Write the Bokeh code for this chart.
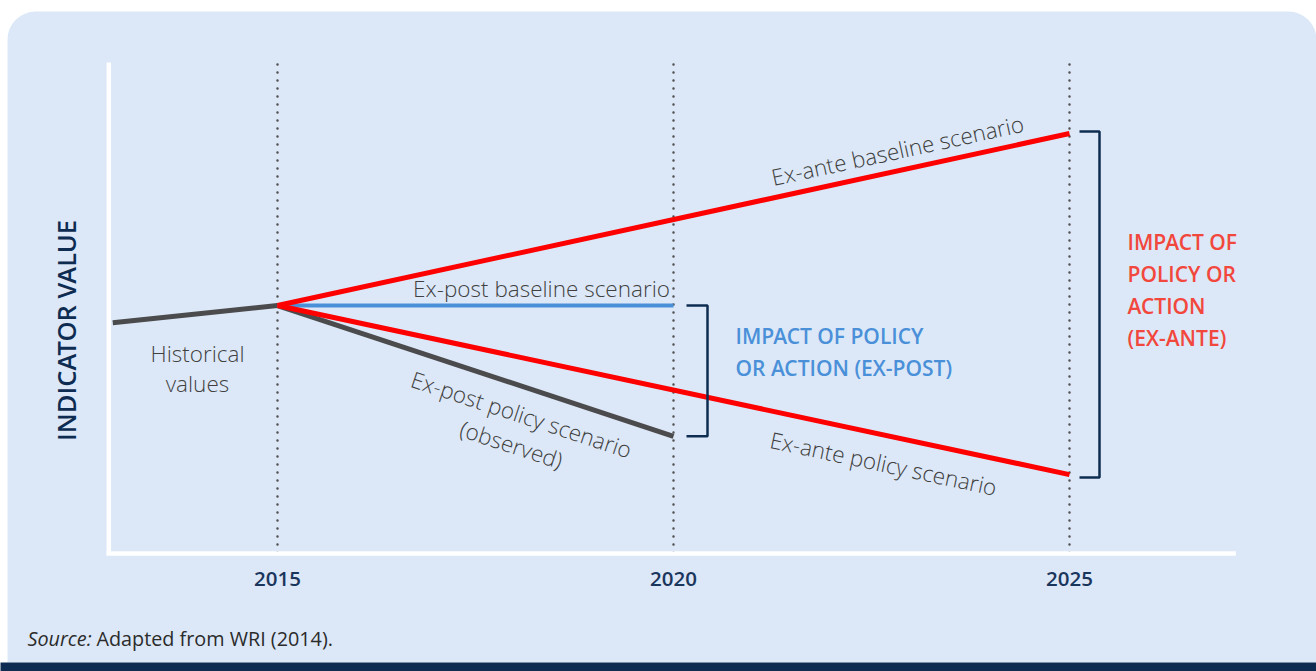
import math
from bokeh.plotting import figure
from bokeh.models import Range1d
from bokeh.core.properties import value
from bokeh.embed import file_html
from bokeh.resources import INLINE

# ---------------- data ----------------
HIST_YEARS = [2012.92, 2015]
HIST_VALUES = [46.9, 50.4]

EXPOST_YEARS = [2015, 2020]
EXPOST_BASELINE = [50.4, 50.4]
EXPOST_POLICY = [50.4, 23.7]

EXANTE_YEARS = [2015, 2025]
EXANTE_BASELINE = [50.4, 85.5]
EXANTE_POLICY = [50.4, 15.9]

MARK_YEARS = [2015, 2020, 2025]
TICK_LABELS = ["2015", "2020", "2025"]

AXIS_X = [2012.87, 2027.1]
AXIS_Y = [0, 100]

# ---------------- layout ----------------
W, H = 1316, 671
PX_X = 79.2      # px per year
PX_Y = 4.9       # px per unit
X_2015_PX = 277  # canvas px of 2015
Y_ZERO_PX = 552  # canvas px (from top) of value 0

x0 = 2015 - X_2015_PX / PX_X
x1 = x0 + W / PX_X
y1 = Y_ZERO_PX / PX_Y
y0 = y1 - H / PX_Y

def ux(px):  # canvas px -> year
    return 2015 + (px - X_2015_PX) / PX_X

def uy(py):  # canvas px -> value
    return (Y_ZERO_PX - py) / PX_Y

p = figure(width=W, height=H, output_backend="svg", toolbar_location=None,
           x_axis_type=None, y_axis_type=None, min_border=0,
           x_range=Range1d(x0, x1), y_range=Range1d(y0, y1))
p.outline_line_color = None
p.background_fill_color = "white"
p.border_fill_color = "white"

PANEL = "#DCE8F7"
NAVY = "#0E2C52"
GRAY_TXT = "#404040"
RED = "#FF0000"
RED_TXT = "#F2473D"
BLUE = "#4A90D9"
DARK = "#4B4B4D"
FONT = value("Open Sans")
FONT_SEMI = value("Open Sans SemiBold")
FONT_LIGHT = value("Open Sans Light")

# panel + bottom bar
p.quad(left=[ux(7)], right=[ux(1316)], top=[uy(11)], bottom=[uy(662)],
       fill_color=PANEL, line_color=None, border_radius=(28, 28, 0, 0))
p.quad(left=[x0 - 1], right=[x1 + 1], top=[uy(662)], bottom=[y0 - 1],
       fill_color=NAVY, line_color=None)

# dotted year markers
for yr in MARK_YEARS:
    p.line([yr, yr], AXIS_Y, line_color="#505050", line_width=2.5,
           line_dash="0 8", line_cap="round")

# axes (white)
p.line([AXIS_X[0], AXIS_X[0]], [AXIS_Y[1], AXIS_Y[0] - 0.2], line_color="white", line_width=4.5)
p.line([AXIS_X[0] - 0.03, AXIS_X[1]], [AXIS_Y[0] - 0.2, AXIS_Y[0] - 0.2], line_color="white", line_width=4.5)

# series lines
p.line(HIST_YEARS, HIST_VALUES, line_color=DARK, line_width=5)
p.line(EXPOST_YEARS, EXPOST_POLICY, line_color=DARK, line_width=5)
p.line(EXPOST_YEARS, EXPOST_BASELINE, line_color=BLUE, line_width=4)
p.line(EXANTE_YEARS, EXANTE_BASELINE, line_color=RED, line_width=5)
p.line(EXANTE_YEARS, EXANTE_POLICY, line_color=RED, line_width=5)

# brackets
bx_a = EXPOST_YEARS[1] + 13 / PX_X
bx_b = EXPOST_YEARS[1] + 34 / PX_X
p.line([bx_a, bx_b, bx_b, bx_a],
       [EXPOST_BASELINE[1], EXPOST_BASELINE[1], EXPOST_POLICY[1], EXPOST_POLICY[1]],
       line_color=NAVY, line_width=2.5)
ex_a = EXANTE_YEARS[1] + 10 / PX_X
ex_b = EXANTE_YEARS[1] + 30 / PX_X
p.line([ex_a, ex_b, ex_b, ex_a],
       [EXANTE_BASELINE[1] + 0.4, EXANTE_BASELINE[1] + 0.4, EXANTE_POLICY[1] - 0.6, EXANTE_POLICY[1] - 0.6],
       line_color=NAVY, line_width=2.5)

def slope_angle(ys, xs):
    return math.atan2((ys[1] - ys[0]) * PX_Y, (xs[1] - xs[0]) * PX_X)

a_base = slope_angle(EXANTE_BASELINE, EXANTE_YEARS)
a_pol = slope_angle(EXANTE_POLICY, EXANTE_YEARS)
a_obs = slope_angle(EXPOST_POLICY, EXPOST_YEARS)

def txt(x, y, t, size="22.5px", color=GRAY_TXT, angle=0.0, align="center",
        style="normal", font=FONT_LIGHT):
    p.text(x=[x], y=[y], text=[t], angle=angle, text_align=align,
           text_baseline="middle", text_font=font, text_font_size=size,
           text_color=color, text_font_style=style)

# line labels
txt(ux(897), uy(150), "Ex-ante baseline scenario", angle=a_base)
txt(ux(541), uy(288), "Ex-post baseline scenario")
txt(ux(197), uy(353), "Historical")
txt(ux(197), uy(383), "values")
txt(ux(521), uy(414), "Ex-post policy scenario", angle=a_obs)
txt(ux(511), uy(444), "(observed)", angle=a_obs)
txt(ux(883), uy(463), "Ex-ante policy scenario", angle=a_pol)

# impact labels
for i, t in enumerate(["IMPACT OF POLICY", "OR ACTION (EX-POST)"]):
    txt(ux(735), uy(335 + 32 * i), t, size="21px", color=BLUE, align="left", font=FONT_SEMI)
for i, t in enumerate(["IMPACT OF", "POLICY OR", "ACTION", "(EX-ANTE)"]):
    txt(ux(1127), uy(241 + 32 * i), t, size="21px", color=RED_TXT, align="left", font=FONT_SEMI)

# axis label and tick labels
txt(ux(65), uy(330), "INDICATOR VALUE", size="25.5px", color=NAVY, angle=math.pi / 2, font=FONT_SEMI)
for yr, lab in zip(MARK_YEARS, TICK_LABELS):
    txt(yr, uy(578), lab, size="20.5px", color="#1B365D", font=FONT_SEMI)

# source
txt(ux(27), uy(638), "Source:", size="19.8px", color="#2b2b2b", align="left", style="italic", font=FONT)
txt(ux(96), uy(638), "Adapted from WRI (2014).", size="19.8px", color="#2b2b2b", align="left", font=FONT)

open("out.html", "w").write(file_html(p, INLINE))
